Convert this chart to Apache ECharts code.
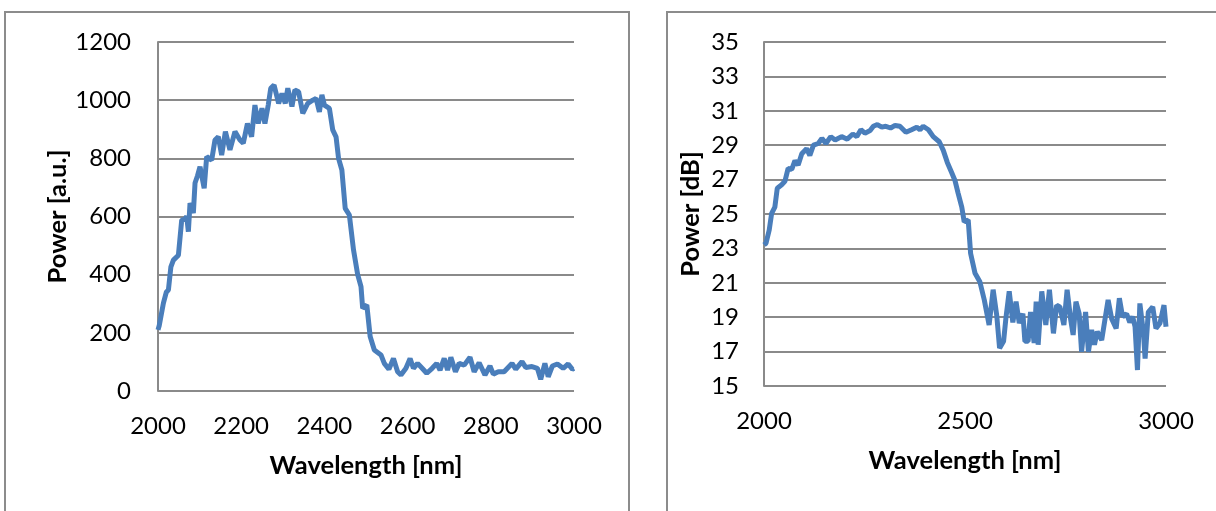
<!DOCTYPE html>
<html>
<head>
<meta charset="utf-8">
<script src="https://cdn.jsdelivr.net/npm/echarts@6/dist/echarts.min.js"></script>
<style>
html,body{margin:0;padding:0;background:#fff;}
#chart{width:1216px;height:511px;}
</style>
</head>
<body>
<div id="chart"></div>
<script>
// Left panel: Power [a.u.] vs Wavelength [nm]
const wavelengthAU = [2000,2003,2013,2020,2025,2031,2037,2049,2057,2064,2069,2073,2077,2085,2089,2095,2101,2111,2117,2129,2137,2145,2153,2162,2173,2185,2197,2205,2215,2225,2233,2241,2250,2257,2265,2271,2279,2290,2298,2306,2312,2322,2329,2338,2348,2360,2372,2380,2388,2394,2400,2412,2420,2428,2434,2442,2450,2460,2470,2480,2488,2492,2502,2510,2520,2536,2544,2555,2566,2576,2584,2596,2606,2614,2624,2635,2646,2659,2670,2678,2688,2696,2704,2715,2724,2736,2750,2760,2772,2786,2798,2806,2818,2832,2851,2860,2875,2884,2899,2912,2920,2930,2938,2948,2960,2974,2986,2996,3000];
const powerAU = [210,225,302,340,347,427,450,467,588,590,600,548,646,612,715,740,771,697,806,794,863,874,811,892,829,892,863,852,920,874,983,920,972,920,983,1041,1052,989,1023,989,1041,978,1035,1029,955,989,1000,1006,960,1018,983,972,898,874,800,760,628,605,485,400,359,284,296,187,141,124,95,75,112,66,55,78,112,78,95,78,61,78,95,72,112,72,116,66,95,89,116,66,97,55,86,58,66,66,95,75,101,81,84,78,40,95,49,86,93,78,93,75,78];

// Right panel: Power [dB] vs Wavelength [nm]
const wavelengthDB = [2000,2005,2013,2019,2027,2033,2044,2052,2060,2069,2077,2085,2094,2106,2114,2123,2135,2144,2154,2166,2177,2193,2207,2221,2231,2241,2251,2264,2272,2282,2293,2303,2315,2326,2338,2353,2367,2380,2388,2396,2409,2421,2436,2446,2456,2467,2475,2483,2492,2498,2508,2514,2525,2537,2548,2560,2570,2579,2586,2596,2602,2610,2619,2627,2635,2644,2649,2657,2663,2672,2677,2682,2691,2701,2710,2720,2728,2736,2746,2754,2763,2769,2776,2784,2790,2800,2807,2815,2822,2829,2840,2848,2856,2865,2876,2884,2892,2902,2910,2917,2923,2929,2935,2944,2948,2956,2967,2975,2985,2995,3000];
const powerDB = [23.2,23.3,24.07,25.04,25.4,26.5,26.7,26.9,27.65,27.6,28.1,27.85,28.5,28.8,28.4,29.0,29.1,29.4,29.1,29.5,29.3,29.5,29.35,29.65,29.5,29.9,29.7,29.85,30.1,30.2,30.05,30.1,30.0,30.15,30.1,29.75,29.9,30.05,29.9,30.1,29.9,29.5,29.2,28.7,28.0,27.4,26.95,26.2,25.4,24.55,24.65,22.7,21.55,21.06,20.0,18.55,20.6,19.1,17.2,17.6,19.0,20.5,18.7,19.9,18.65,19.2,17.6,17.6,19.3,17.5,19.9,17.4,20.5,18.55,20.6,18.06,19.7,19.6,18.55,20.6,18.84,17.97,19.9,19.2,16.99,19.3,16.99,18.26,17.4,18.16,17.67,18.84,20.0,18.9,18.35,20.1,19.03,19.2,18.7,19.03,18.45,15.93,19.8,18.06,16.6,19.3,19.6,18.35,18.65,19.7,18.45];

const xAxisTitle = 'Wavelength [nm]';
const yTitleAU = 'Power [a.u.]';
const yTitleDB = 'Power [dB]';

const FONT = 'Lato';
const GRID_COLOR = '#8a8a8a';
const LINE_COLOR = '#4a7ebb';

const pairs = (xs, ys) => xs.map((x, i) => [x, ys[i]]);
const plain = v => String(v);

const labelStyle = {color: '#000', fontFamily: FONT, fontSize: 24, formatter: plain};
const nameStyle = {color: '#000', fontFamily: FONT, fontSize: 25.5, fontWeight: 'bold'};

function xAxisCfg(gridIndex, interval, gap) {
  return {
    type: 'value', gridIndex, min: 2000, max: 3000, interval,
    name: xAxisTitle, nameLocation: 'middle', nameGap: gap, nameTextStyle: nameStyle,
    axisLine: {show: false}, axisTick: {show: false},
    splitLine: {show: false},
    axisLabel: Object.assign({margin: 23}, labelStyle)
  };
}
function yAxisCfg(gridIndex, min, max, interval, name, gap, margin) {
  return {
    type: 'value', gridIndex, min, max, interval,
    name, nameLocation: 'middle', nameGap: gap, nameTextStyle: nameStyle,
    axisLine: {show: true, lineStyle: {color: GRID_COLOR, width: 2}},
    axisTick: {show: false},
    splitLine: {show: true, lineStyle: {color: GRID_COLOR, width: 2}},
    axisLabel: Object.assign({margin}, labelStyle)
  };
}

const chart = echarts.init(document.getElementById('chart'), null, {renderer: 'canvas'});
chart.setOption({
  backgroundColor: '#fff',
  animation: false,
  graphic: [
    {type: 'rect', shape: {x: 5, y: 12, width: 624, height: 520}, style: {fill: 'none', stroke: '#8c8c8c', lineWidth: 2}, z: -1},
    {type: 'rect', shape: {x: 667, y: 12, width: 600, height: 520}, style: {fill: 'none', stroke: '#8c8c8c', lineWidth: 2}, z: -1}
  ],
  grid: [
    {left: 158, top: 42, width: 416, height: 349},
    {left: 764, top: 42, width: 402, height: 344}
  ],
  xAxis: [xAxisCfg(0, 200, 62), xAxisCfg(1, 500, 62)],
  yAxis: [
    yAxisCfg(0, 0, 1200, 200, yTitleAU, 87, 27),
    yAxisCfg(1, 15, 35, 2, yTitleDB, 60, 25)
  ],
  series: [
    {type: 'line', xAxisIndex: 0, yAxisIndex: 0, data: pairs(wavelengthAU, powerAU),
     showSymbol: false, lineStyle: {color: LINE_COLOR, width: 5}, itemStyle: {color: LINE_COLOR}},
    {type: 'line', xAxisIndex: 1, yAxisIndex: 1, data: pairs(wavelengthDB, powerDB),
     showSymbol: false, lineStyle: {color: LINE_COLOR, width: 5}, itemStyle: {color: LINE_COLOR}}
  ]
});
</script>
</body>
</html>
